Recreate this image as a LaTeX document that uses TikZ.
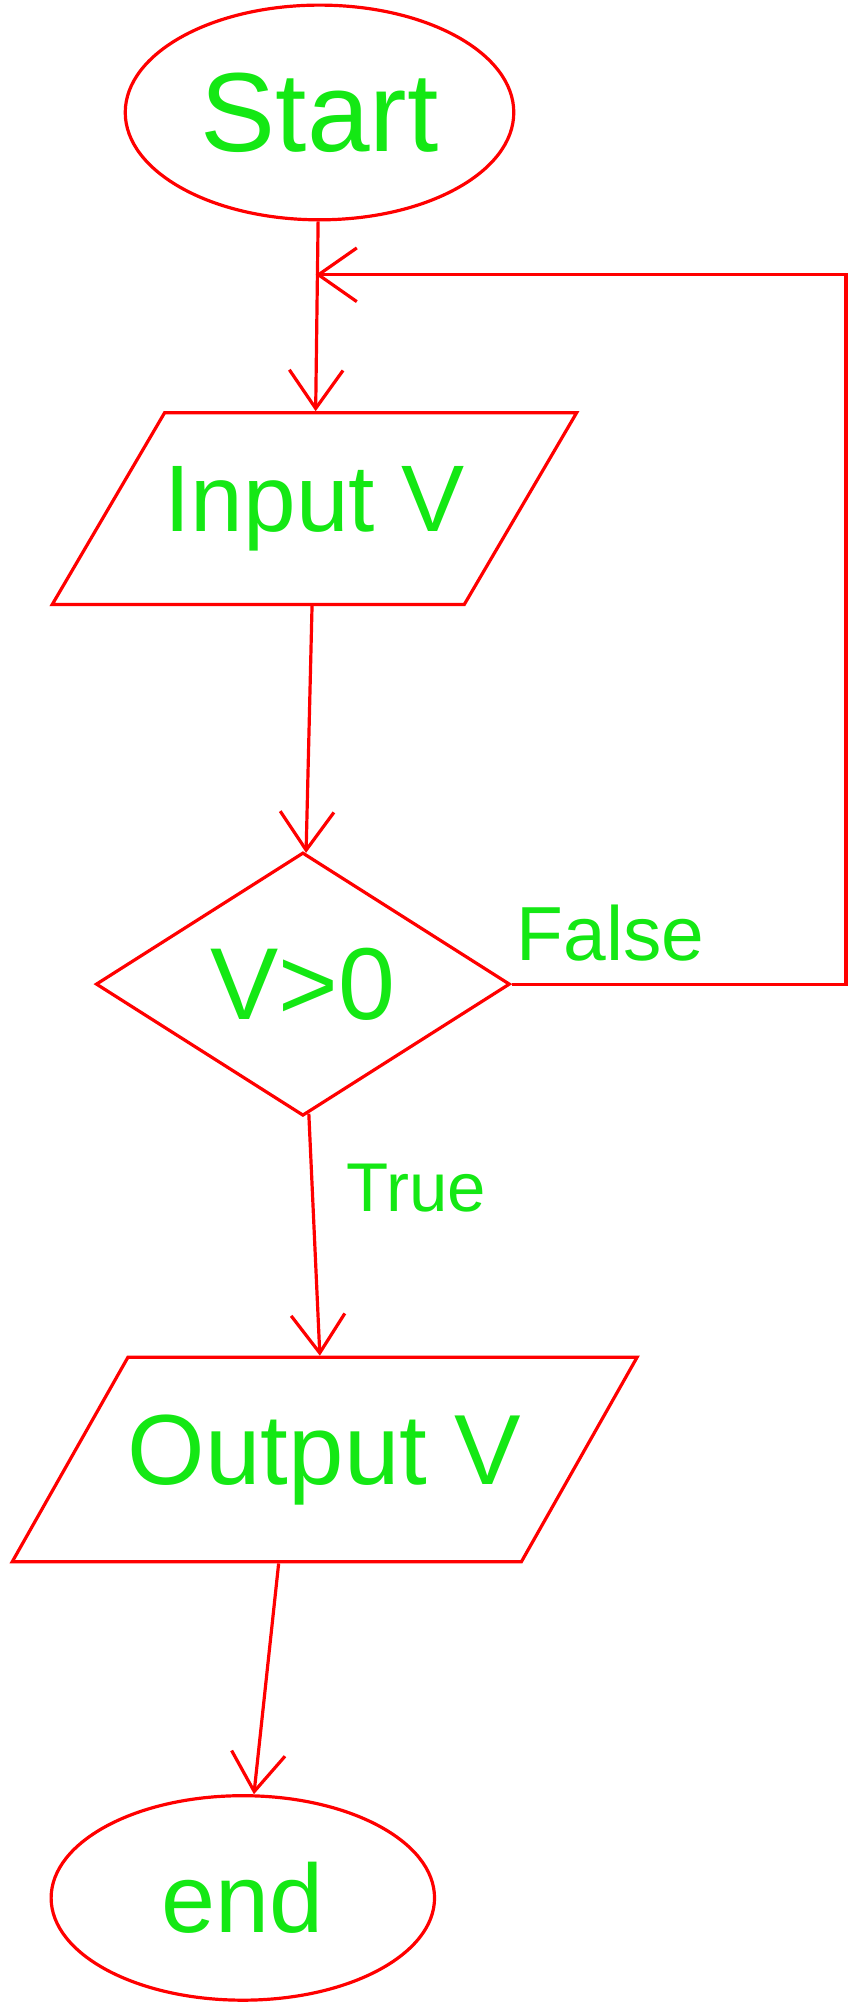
\documentclass[tikz,border=0pt]{standalone}
\usepackage{fontspec}
\setmainfont{Liberation Sans}
\usepackage{xcolor}
\usepackage{tikz}
\usetikzlibrary{shapes.geometric,arrows.meta,positioning}

\definecolor{tratto}{RGB}{255,0,0}
\definecolor{scritta}{RGB}{20,232,20}

\tikzset{
  blocco/.style={draw=tratto, line width=2.5pt, text=scritta, inner sep=0pt},
  terminale/.style={blocco, ellipse},
  dati/.style={blocco, trapezium, trapezium stretches body,
    trapezium left angle=59, trapezium right angle=121,
    inner xsep=0pt, inner ysep=40pt},
  scelta/.style={blocco, diamond, aspect=1.6},
  etichetta/.style={text=scritta, inner sep=0pt},
  flusso/.style={draw=tratto, line width=2.5pt, -{Straight Barb[length=30pt,width=42pt]}}
}

\begin{document}
\begin{tikzpicture}[x=1pt, y=-1pt]

\useasboundingbox (0,0) rectangle (668,1568);

% Blocchi del diagramma
\node[terminale, minimum width=304pt, minimum height=168pt,
  font=\fontsize{88}{96}\selectfont] (start) at (250,88) {Start};
\node[dati, minimum height=150pt,
  font=\fontsize{74}{80}\selectfont] (input) at (246,398) {Input V};
\node[scelta, minimum width=324pt, minimum height=206pt,
  font=\fontsize{80}{88}\selectfont] (test) at (237,770) {V>0};
\node[dati, minimum height=160pt,
  font=\fontsize{78}{86}\selectfont] (output) at (254,1142) {Output V};
\node[terminale, minimum width=300pt, minimum height=160pt,
  font=\fontsize{76}{84}\selectfont] (fine) at (190,1485) {end};

% Punti del ritorno
\coordinate (giro) at (662,0);
\coordinate (innesto) at (247,215);

% Collegamenti
\draw[flusso] (start) -- (input);
\draw[flusso] (input) -- (test);
\draw[flusso] (test) -- (output);
\draw[flusso] ([xshift=-36pt]output.south) -- (fine);
\draw[flusso] (test.east) -- (test.east -| giro) |- (innesto);

% Etichette dei rami
\node[etichetta, font=\fontsize{60}{66}\selectfont,
  above right=18pt and 4pt of test.east] (falso) {False};
\node[etichetta, font=\fontsize{54}{60}\selectfont,
  below right=36pt and 34pt of test.south] (vero) {True};

\end{tikzpicture}
\end{document}
